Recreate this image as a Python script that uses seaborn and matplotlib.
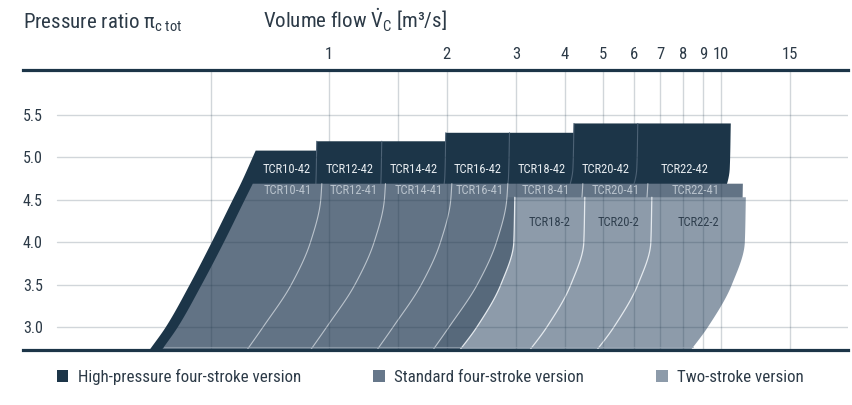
import numpy as np
import pandas as pd
import matplotlib
matplotlib.use("Agg")
import matplotlib.pyplot as plt
import seaborn as sns
from matplotlib.patches import Polygon, Patch
from matplotlib.ticker import FixedLocator, FixedFormatter, NullLocator
from matplotlib import font_manager as fm

# ---------------- data ----------------
flow_ticks = [1, 2, 3, 4, 5, 6, 7, 8, 9, 10, 15]
flow_tick_labels = ["1", "2", "3", "4", "5", "6", "7", "8", "9", "10", "15"]
flow_grid = [0.5, 1, 1.5, 2, 3, 4, 5, 6, 7, 8, 9, 10, 15]
pressure_ticks = [3.0, 3.5, 4.0, 4.5, 5.0, 5.5]
pressure_tick_labels = ["3.0", "3.5", "4.0", "4.5", "5.0", "5.5"]

# left envelope (surge limit) of high-pressure and standard versions
surge_hp_p = [2.73, 3.0, 3.5, 4.0, 4.5, 4.69, 5.08]
surge_hp_flow = [0.349, 0.384, 0.442, 0.503, 0.569, 0.5965, 0.651]
surge_std_p = [2.73, 3.0, 3.5, 4.0, 4.5, 4.69]
surge_std_flow = [0.375, 0.412, 0.474, 0.540, 0.6105, 0.640]

# right-hand limit curves: log10 flow shift vs. drop of pressure ratio below the top
choke_std_dp = [0.0, 0.2, 0.69, 1.19, 1.69, 1.96]
choke_std_dlog = [0.0, -0.003, -0.029, -0.078, -0.150, -0.191]
choke_ts_dp = [0.0, 0.53, 1.03, 1.53, 1.80, 2.0]
choke_ts_dlog = [0.0, -0.0026, -0.0357, -0.0969, -0.1403, -0.175]

# High-pressure four-stroke version
hp_models = ["TCR10-42", "TCR12-42", "TCR14-42", "TCR16-42", "TCR18-42", "TCR20-42", "TCR22-42"]
hp_top = [5.08, 5.19, 5.19, 5.29, 5.29, 5.40, 5.40]
hp_edges = [0.651, 0.932, 1.365, 1.988, 2.89, 4.22, 6.14, 10.6]

# Standard four-stroke version
std_models = ["TCR10-41", "TCR12-41", "TCR14-41", "TCR16-41", "TCR18-41", "TCR20-41", "TCR22-41"]
std_top = 4.69
std_edges = [0.640, 0.960, 1.395, 2.060, 2.862, 4.446, 6.514, 11.38]

# Two-stroke version
ts_models = ["TCR18-2", "TCR20-2", "TCR22-2"]
ts_top = 4.53
ts_edges = [2.982, 4.498, 6.668, 11.58]

legend_labels = ["High-pressure four-stroke version", "Standard four-stroke version", "Two-stroke version"]

# ---------------- style ----------------
C_DARK = "#1c3548"
C_MED = "#627385"
C_MED2 = "#57697b"
C_LIGHT = "#8d9baa"
C_TEXT = "#2c3a47"

sns.set_theme(style="white")
entries = fm.fontManager.ttflist
names = {f.name for f in entries}
stretch = "normal"
COND = None
for cand in ["Roboto Condensed", "Liberation Sans Narrow", "Arial Narrow", "Open Sans Condensed",
             "Noto Sans Condensed"]:
    if cand in names:
        COND = cand
        break
if COND is None:
    for f in entries:
        if ("Condensed" in f.name or "Narrow" in f.name) and "Mono" not in f.name and "Serif" not in f.name:
            COND = f.name
            break
if COND is None:
    if any(f.name == "DejaVu Sans" and str(f.stretch) == "condensed" for f in entries):
        COND = "DejaVu Sans"
        stretch = "condensed"
    else:
        COND = "Liberation Sans"
plt.rcParams["font.family"] = [COND, "DejaVu Sans"]
plt.rcParams["font.stretch"] = stretch
plt.rcParams["mathtext.fontset"] = "custom"
plt.rcParams["mathtext.rm"] = COND
plt.rcParams["mathtext.it"] = COND + ":italic"
plt.rcParams["mathtext.bf"] = COND + ":bold"

W, H = 852, 405
fig = plt.figure(figsize=(W / 100, H / 100), dpi=100)
ax = fig.add_axes([23 / W, 55 / H, 825 / W, 280 / H])
ax.set_xscale("log")
XLIM = (0.166, 21.1)
YLIM = (2.73, 6.03)
ax.set_xlim(*XLIM)
ax.set_ylim(*YLIM)

P_LO = 2.55


def pchip(x, y, xq):
    """Monotone piecewise-cubic interpolation (smooth curve through the read points)."""
    x = np.asarray(x, float)
    y = np.asarray(y, float)
    xq = np.clip(np.asarray(xq, float), x[0], x[-1])
    h = np.diff(x)
    d = np.diff(y) / h
    m = np.zeros_like(y)
    for k in range(1, len(x) - 1):
        if d[k - 1] * d[k] > 0:
            w1 = 2 * h[k] + h[k - 1]
            w2 = h[k] + 2 * h[k - 1]
            m[k] = (w1 + w2) / (w1 / d[k - 1] + w2 / d[k])
    m[0] = d[0]
    m[-1] = d[-1]
    idx = np.clip(np.searchsorted(x, xq) - 1, 0, len(h) - 1)
    t = (xq - x[idx]) / h[idx]
    h00 = 2 * t ** 3 - 3 * t ** 2 + 1
    h10 = t ** 3 - 2 * t ** 2 + t
    h01 = -2 * t ** 3 + 3 * t ** 2
    h11 = t ** 3 - t ** 2
    return h00 * y[idx] + h10 * h[idx] * m[idx] + h01 * y[idx + 1] + h11 * h[idx] * m[idx + 1]


def limit_curve(flow0, p0, dp_tab, dlog_tab, p_lo, p_hi, n=80):
    p = np.linspace(p_lo, p_hi, n)
    f = flow0 * 10 ** pchip(dp_tab, dlog_tab, p0 - p)
    return f, p


def surge_curve(p_tab, f_tab, p_hi, n=80, p_lo=P_LO):
    p = np.linspace(p_lo, p_hi, n)
    f = 10 ** pchip(p_tab, np.log10(f_tab), p)
    return f, p


# ---- high-pressure envelope ----
fl, pl = surge_curve(surge_hp_p, surge_hp_flow, hp_top[0])
xs, ys = list(fl), list(pl)
n = len(hp_models)
for i in range(n):
    if i < n - 1:
        anchor = max(hp_top[i], hp_top[i + 1])
        a, _ = limit_curve(hp_edges[i + 1], anchor, choke_ts_dp, choke_ts_dlog, hp_top[i], hp_top[i], 1)
        b, _ = limit_curve(hp_edges[i + 1], anchor, choke_ts_dp, choke_ts_dlog, hp_top[i + 1], hp_top[i + 1], 1)
        xs += [a[0], b[0]]
        ys += [hp_top[i], hp_top[i + 1]]
    else:
        f, p = limit_curve(hp_edges[-1], hp_top[-1], choke_ts_dp, choke_ts_dlog, P_LO, hp_top[-1])
        xs += list(f[::-1])
        ys += list(p[::-1])
ax.add_patch(Polygon(np.column_stack([xs, ys]), closed=True, facecolor=C_DARK, edgecolor="none", zorder=2))

# separators within high-pressure band
rows = []
for i in range(1, n):
    anchor = max(hp_top[i - 1], hp_top[i])
    f, p = limit_curve(hp_edges[i], anchor, choke_ts_dp, choke_ts_dlog, std_top, anchor, 20)
    rows += [{"flow": a, "p": b, "sep": i} for a, b in zip(f, p)]
sns.lineplot(data=pd.DataFrame(rows), x="flow", y="p", units="sep", estimator=None, sort=False,
             color="#4d6275", lw=0.8, zorder=2.1, ax=ax, legend=False)

# ---- standard envelope ----
fl, pl = surge_curve(surge_std_p, surge_std_flow, std_top)
fr, pr = limit_curve(std_edges[-1], std_top, choke_ts_dp, choke_ts_dlog, P_LO, std_top)
xs = list(fl) + list(fr[::-1])
ys = list(pl) + list(pr[::-1])
ax.add_patch(Polygon(np.column_stack([xs, ys]), closed=True, facecolor=C_MED, edgecolor="none", zorder=3))

# overlapping part of the larger standard maps
f4, p4 = limit_curve(std_edges[4], std_top, choke_std_dp, choke_std_dlog, P_LO, ts_top)
xs = list(f4) + [ts_edges[1], ts_edges[1]]
ys = list(p4) + [ts_top, P_LO]
ax.add_patch(Polygon(np.column_stack([xs, ys]), closed=True, facecolor=C_MED2, edgecolor="none", zorder=3.05))

rows = []
for i in range(1, len(std_edges) - 1):
    f, p = limit_curve(std_edges[i], std_top, choke_std_dp, choke_std_dlog, P_LO, std_top)
    rows += [{"flow": a, "p": b, "sep": i} for a, b in zip(f, p)]
sns.lineplot(data=pd.DataFrame(rows), x="flow", y="p", units="sep", estimator=None, sort=False,
             color="#c4ccd4", lw=0.8, alpha=0.9, zorder=3.1, ax=ax, legend=False)

# ---- two-stroke envelope ----
fl, pl = limit_curve(ts_edges[0], ts_top, choke_ts_dp, choke_ts_dlog, P_LO, ts_top)
fr, pr = limit_curve(ts_edges[-1], ts_top, choke_ts_dp, choke_ts_dlog, P_LO, ts_top)
xs = list(fl) + list(fr[::-1])
ys = list(pl) + list(pr[::-1])
ax.add_patch(Polygon(np.column_stack([xs, ys]), closed=True, facecolor=C_LIGHT, edgecolor="none", zorder=3.5))

rows = []
for i in range(0, len(ts_edges) - 1):
    f, p = limit_curve(ts_edges[i], ts_top, choke_ts_dp, choke_ts_dlog, P_LO, ts_top)
    rows += [{"flow": a, "p": b, "sep": i} for a, b in zip(f, p)]
sns.lineplot(data=pd.DataFrame(rows), x="flow", y="p", units="sep", estimator=None, sort=False,
             color="#e4e9ee", lw=0.9, zorder=3.6, ax=ax, legend=False)

# thin light base stripe just above the lower axis line, across the filled maps
P_BASE = 2.765
bl, _ = surge_curve(surge_std_p, surge_std_flow, P_BASE, 1, P_BASE)
br, _ = limit_curve(ts_edges[-1], ts_top, choke_ts_dp, choke_ts_dlog, P_BASE, P_BASE, 1)
ax.plot([bl[0], br[0]], [P_BASE, P_BASE], color="#9aa7b4", lw=0.8, alpha=0.7, zorder=4.6)

# ---- grid (drawn over the fills, multiply-like) ----
for g in flow_grid:
    ax.axvline(g, color=C_DARK, alpha=0.2, lw=1.0, zorder=4.5)
for g in pressure_ticks:
    ax.axhline(g, xmin=34 / 825, xmax=1, color=C_DARK, alpha=0.2, lw=1.0, zorder=4.5)

# ---- model labels ----
LBL = 9.0
for i, m in enumerate(hp_models):
    ax.text(np.sqrt(hp_edges[i] * hp_edges[i + 1]), 4.86, m, ha="center", va="center",
            fontsize=LBL, color="#e8edf1", zorder=6)
for i, m in enumerate(std_models):
    ax.text(np.sqrt(std_edges[i] * std_edges[i + 1]), 4.61, m, ha="center", va="center",
            fontsize=LBL, color="#b9c3cd", zorder=6)
for i, m in enumerate(ts_models):
    ax.text(np.sqrt(ts_edges[i] * ts_edges[i + 1]), 4.23, m, ha="center", va="center",
            fontsize=LBL, color="#2e3e4d", zorder=6)

# ---- axes styling ----
ax.xaxis.set_major_locator(FixedLocator(flow_ticks))
ax.xaxis.set_major_formatter(FixedFormatter(flow_tick_labels))
ax.xaxis.set_minor_locator(NullLocator())
ax.xaxis.tick_top()
ax.tick_params(axis="x", length=0, pad=6, labelsize=12, labelcolor=C_TEXT)
ax.set_yticks(pressure_ticks)
ax.set_yticklabels(pressure_tick_labels)
ax.yaxis.set_minor_locator(NullLocator())
ax.tick_params(axis="y", length=0, pad=0, labelsize=11.5, labelcolor=C_TEXT)
for lbl in ax.get_yticklabels():
    lbl.set_horizontalalignment("left")
ax.set_xlabel("")
ax.set_ylabel("")
ax.grid(False)
for s in ["left", "right"]:
    ax.spines[s].set_visible(False)
for s in ["top", "bottom"]:
    ax.spines[s].set_color(C_DARK)
    ax.spines[s].set_linewidth(2.3)
    ax.spines[s].set_zorder(7)

# ---- titles ----
fig.text(23 / W, 1 - 29 / H, r"Pressure ratio $\mathrm{\pi}_{\mathrm{c\ tot}}$", fontsize=15,
         va="baseline", ha="left", color=C_TEXT)
fig.text(263 / W, 1 - 29 / H, r"Volume flow $\dot{\mathrm{V}}_{\mathrm{C}}$ [m³/s]", fontsize=15,
         va="baseline", ha="left", color=C_TEXT)

# ---- legend ----
handles = [Patch(facecolor=c, edgecolor="none", label=l)
           for c, l in zip([C_DARK, "#66778a", C_LIGHT], legend_labels)]
fig.legend(handles=handles, loc="center", bbox_to_anchor=(0.505, 1 - 377 / H), ncol=3, frameon=False,
           handlelength=0.7, handleheight=0.7, handletextpad=0.55, columnspacing=4.25,
           fontsize=12.2, labelcolor=C_TEXT, borderpad=0, borderaxespad=0)

fig.savefig("out.png", dpi=100)
